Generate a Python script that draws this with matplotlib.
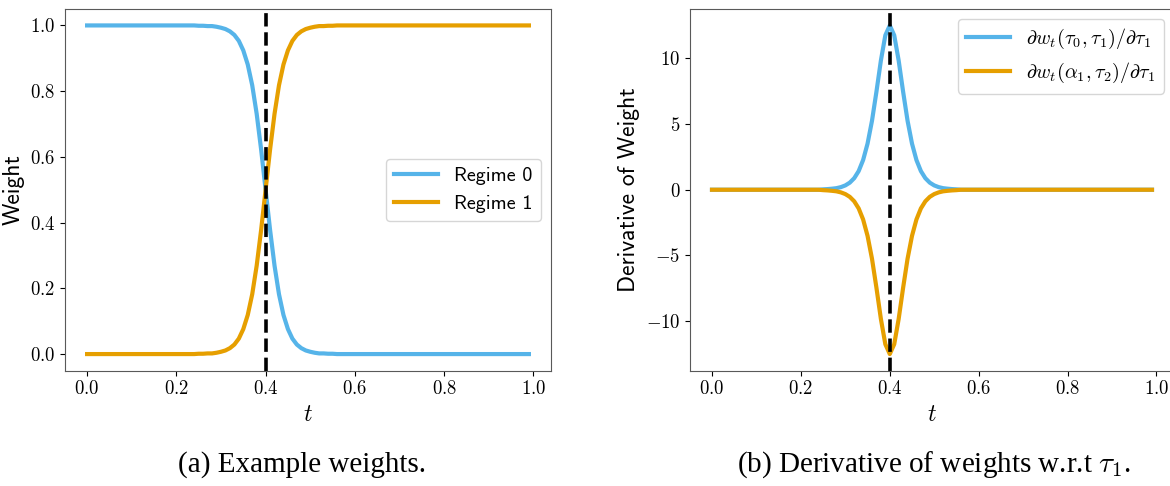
import numpy as np
import matplotlib
matplotlib.use('Agg')
from matplotlib import pyplot as plt

plt.rcParams['font.family'] = 'cmr10'
plt.rcParams['mathtext.fontset'] = 'cm'
plt.rcParams['axes.formatter.use_mathtext'] = True
plt.rcParams['axes.unicode_minus'] = True

blue = '#56B4E9'
orange = '#E69F00'

# time grid, step 0.01
t = np.arange(100) / 100
switch_t = 0.4

# weights
regime0 = ([1.0] * 25
           + [0.999, 0.999, 0.998, 0.998, 0.996,
              0.993, 0.989, 0.982, 0.971, 0.953, 0.924, 0.881, 0.818, 0.731, 0.622,
              0.5, 0.378, 0.269, 0.182, 0.119, 0.076, 0.047, 0.029, 0.018, 0.011,
              0.007, 0.004, 0.002, 0.002, 0.001, 0.001]
           + [0.0] * 44)
regime1 = ([0.0] * 25
           + [0.001, 0.001, 0.002, 0.002, 0.004,
              0.007, 0.011, 0.018, 0.029, 0.047, 0.076, 0.119, 0.182, 0.269, 0.378,
              0.5, 0.622, 0.731, 0.818, 0.881, 0.924, 0.953, 0.971, 0.982, 0.989,
              0.993, 0.996, 0.998, 0.998, 0.999, 0.999]
           + [1.0] * 44)

# derivatives
deriv_tau = ([0.0] * 25
             + [0.03, 0.05, 0.08, 0.12, 0.20,
                0.33, 0.54, 0.88, 1.42, 2.26, 3.51, 5.25, 7.46, 9.83, 11.75,
                12.5, 11.75, 9.83, 7.46, 5.25, 3.51, 2.26, 1.42, 0.88, 0.54,
                0.33, 0.20, 0.12, 0.08, 0.05, 0.03]
             + [0.0] * 44)
deriv_alpha = ([0.0] * 25
               + [-0.03, -0.05, -0.08, -0.12, -0.20,
                  -0.33, -0.54, -0.88, -1.42, -2.26, -3.51, -5.25, -7.46, -9.83, -11.75,
                  -12.5, -11.75, -9.83, -7.46, -5.25, -3.51, -2.26, -1.42, -0.88, -0.54,
                  -0.33, -0.20, -0.12, -0.08, -0.05, -0.03]
               + [0.0] * 44)

legend_a = ['Regime 0', 'Regime 1']
legend_b = [r'$\partial w_t(\tau_0, \tau_1)/\partial \tau_1$',
            r'$\partial w_t(\alpha_1, \tau_2)/\partial \tau_1$']

fig = plt.figure(figsize=(11.7, 4.86), dpi=100)
ax1 = fig.add_axes([65 / 1170, 1 - 370.5 / 486, 486 / 1170, 361.5 / 486])
ax2 = fig.add_axes([690 / 1170, 1 - 370.5 / 486, 484 / 1170, 361.5 / 486])

tick_size = 13.5
label_size = 17

# (a) weights
ax1.plot(t, regime0, color=blue, lw=3, label=legend_a[0])
ax1.plot(t, regime1, color=orange, lw=3, label=legend_a[1])
ax1.axvline(switch_t, color='black', ls='--', lw=2.6)
ax1.set_xticks([0.0, 0.2, 0.4, 0.6, 0.8, 1.0])
ax1.set_yticks([0.0, 0.2, 0.4, 0.6, 0.8, 1.0])
ax1.set_xlabel(r'$t$', fontsize=17)
ax1.set_ylabel('Weight', fontsize=label_size, fontfamily='cmss10')
ax1.legend(loc='center right', prop={'family': 'cmss10', 'size': 14.5},
           handlelength=2.2)

# (b) derivatives
ax2.plot(t, deriv_tau, color=blue, lw=3, label=legend_b[0])
ax2.plot(t, deriv_alpha, color=orange, lw=3, label=legend_b[1])
ax2.axvline(switch_t, color='black', ls='--', lw=2.6)
ax2.set_xticks([0.0, 0.2, 0.4, 0.6, 0.8, 1.0])
ax2.set_yticks([-10, -5, 0, 5, 10])
ax2.set_xlabel(r'$t$', fontsize=17)
ax2.set_ylabel('Derivative of Weight', fontsize=label_size, fontfamily='cmss10')
ax2.legend(loc='upper right', fontsize=14.5, handlelength=2.2)

for ax in [ax1, ax2]:
    ax.tick_params(labelsize=tick_size)
    for s in ax.spines.values():
        s.set_color('0.35')

fig.text(302 / 1170, 1 - 465 / 486, '(a) Example weights.', ha='center', va='center',
         fontsize=21, fontfamily='Liberation Serif')
fig.text(934 / 1170, 1 - 465 / 486, r'(b) Derivative of weights w.r.t $\tau_1$.',
         ha='center', va='center', fontsize=21, fontfamily='Liberation Serif')

fig.savefig('out.png', dpi=100)
